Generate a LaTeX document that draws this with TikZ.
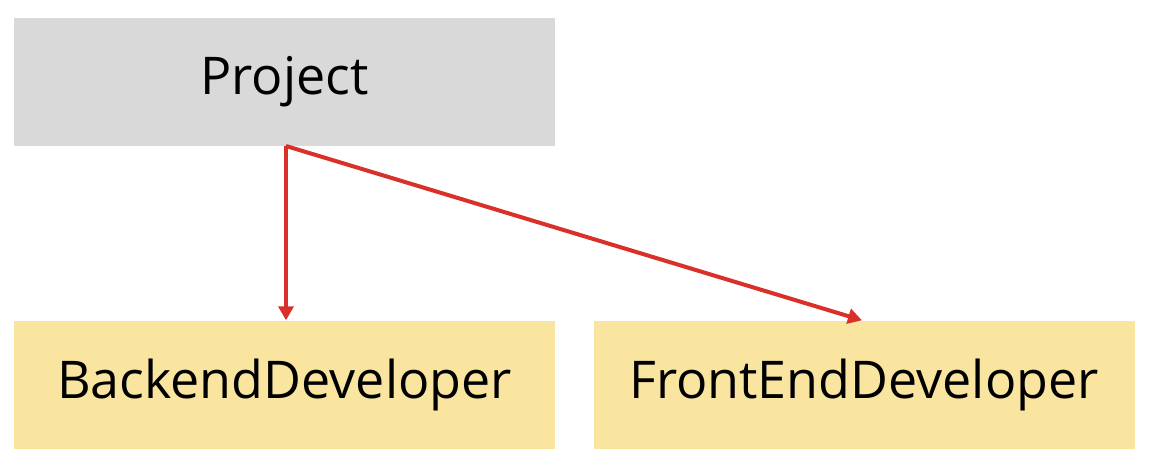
\documentclass[tikz,border=0pt]{standalone}
\usepackage{fontspec}
\setmainfont{Open Sans}
\usetikzlibrary{arrows.meta}
\definecolor{boxgray}{HTML}{D9D9D9}
\definecolor{boxyellow}{HTML}{F9E4A0}
\definecolor{arrowred}{HTML}{D9302A}
\begin{document}
\begin{tikzpicture}[x=1pt,y=-1pt,
  box/.style={minimum width=541pt,minimum height=128pt,inner sep=0pt,font=\fontsize{52}{60}\selectfont},
  conn/.style={draw=arrowred,line width=4pt,-{Triangle[length=14pt,width=15pt]}}]
\useasboundingbox (0,0) rectangle (1153,460);
\node[box,fill=boxgray] (proj) at (284.5,82) {Project};
\node[box,fill=boxyellow] (back) at (284.5,384.5) {BackendDeveloper};
\node[box,fill=boxyellow] (front) at (864,384.5) {FrontEndDeveloper};
\coordinate (start) at (286,146);
\draw[conn] (start) -- (back.north -| start);
\draw[conn] (start) -- ([xshift=-2pt]front.north);
\end{tikzpicture}
\end{document}
